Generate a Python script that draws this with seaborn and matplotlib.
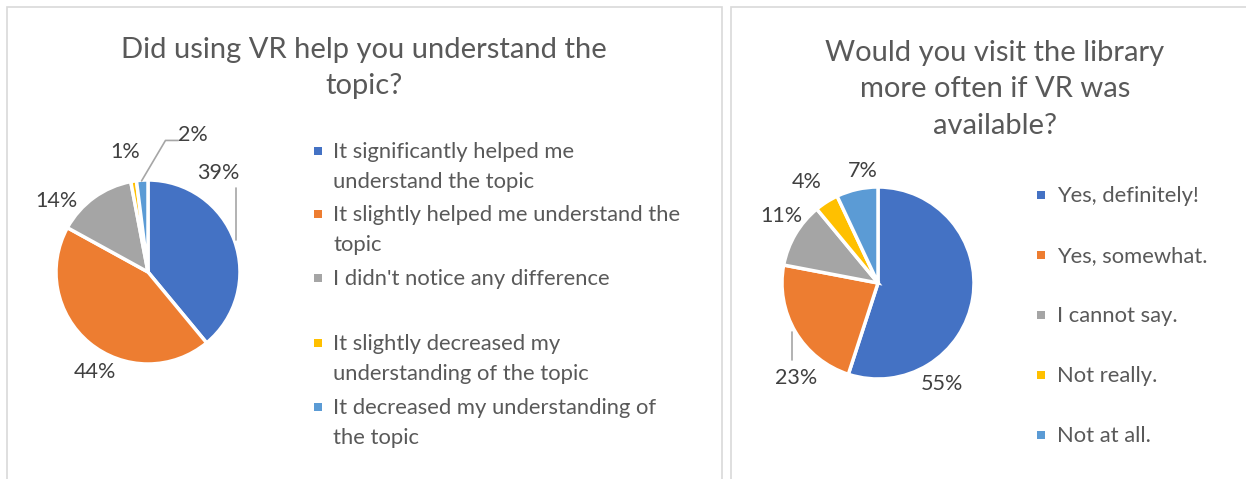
import matplotlib
matplotlib.use("Agg")
import matplotlib.pyplot as plt
from matplotlib.patches import Rectangle
import seaborn as sns

# ---- data ----
left_title = "Did using VR help you understand the\ntopic?"
left_categories = [
    "It significantly helped me\nunderstand the topic",
    "It slightly helped me understand the\ntopic",
    "I didn't notice any difference",
    "It slightly decreased my\nunderstanding of the topic",
    "It decreased my understanding of\nthe topic",
]
left_values = [39, 44, 14, 1, 2]

right_title = "Would you visit the library\nmore often if VR was\navailable?"
right_categories = ["Yes, definitely!", "Yes, somewhat.", "I cannot say.", "Not really.", "Not at all."]
right_values = [55, 23, 11, 4, 7]

colors = ["#4472C4", "#ED7D31", "#A5A5A5", "#FFC000", "#5B9BD5"]

sns.set_theme(style="white")
FONT = ["Lato", "DejaVu Sans"]
plt.rcParams["font.family"] = FONT

W, H = 1246, 479
fig = plt.figure(figsize=(W / 100, H / 100), dpi=100)
fig.patch.set_facecolor("white")

def px_rect(x0, y0, w, h):
    return [x0 / W, 1 - (y0 + h) / H, w / W, h / H]

# panel borders
for (x0, x1) in [(7, 722), (731, 1250)]:
    fig.patches.append(Rectangle((x0 / W, -0.05), (x1 - x0) / W, 1.05 - 7 / H,
                                 transform=fig.transFigure, fill=False,
                                 edgecolor="#D9D9D9", linewidth=1.2))

label_color = "#404040"
text_color = "#595959"

def draw_pie(cx, cy, r, values, label_pos, leaders):
    ax = fig.add_axes(px_rect(cx - r, cy - r, 2 * r, 2 * r))
    wedges, _ = ax.pie(values, colors=colors, startangle=90, counterclock=False,
                       radius=1, wedgeprops=dict(edgecolor="white", linewidth=2.5))
    ax.set_xlim(-1, 1)
    ax.set_ylim(-1, 1)
    ax.set_aspect("equal")
    ax.axis("off")
    total = sum(values)
    for v, (lx, ly) in zip(values, label_pos):
        ax.text(lx, ly, f"{round(100 * v / total)}%", ha="center", va="center",
                fontsize=15.5, color=label_color, clip_on=False)
    for pts in leaders:
        xs, ys = zip(*pts)
        ax.plot(xs, ys, color="#A6A6A6", lw=1.2, clip_on=False)
    return ax

# left pie
draw_pie(148, 272, 92, left_values,
         [(0.76, 1.08), (-0.58, -1.09), (-0.99, 0.77), (-0.25, 1.30), (0.49, 1.49)],
         [[(0.96, 0.91), (0.96, 0.35)],
          [(0.33, 1.43), (0.19, 1.43), (-0.07, 0.99)]])

# right pie
draw_pie(878, 283, 96, right_values,
         [(0.67, -1.05), (-0.85, -0.99), (-1.01, 0.70), (-0.74, 1.05), (-0.16, 1.17)],
         [[(-0.90, -0.51), (-0.90, -0.80)]])

# titles
fig.text(364 / W, 1 - 68 / H, left_title, ha="center", va="center",
         fontsize=21, color=text_color, linespacing=1.5)
fig.text(995 / W, 1 - 89 / H, right_title, ha="center", va="center",
         fontsize=21, color=text_color, linespacing=1.5)

# legends
def legend(x_mark, x_text, ys, cats):
    for y, c, col in zip(ys, cats, colors):
        fig.patches.append(Rectangle(((x_mark - 4) / W, 1 - (y + 4) / H), 8 / W, 8 / H,
                                     transform=fig.transFigure, facecolor=col, edgecolor="none"))
        fig.text(x_text / W, 1 - (y - 9) / H, c, ha="left", va="top",
                 fontsize=15.8, color=text_color, linespacing=1.62)

legend(318, 333, [151, 214, 278, 343, 407], left_categories)
legend(1041, 1057, [195, 255, 315, 375, 435], right_categories)

fig.savefig("out.png", dpi=100, facecolor="white")
